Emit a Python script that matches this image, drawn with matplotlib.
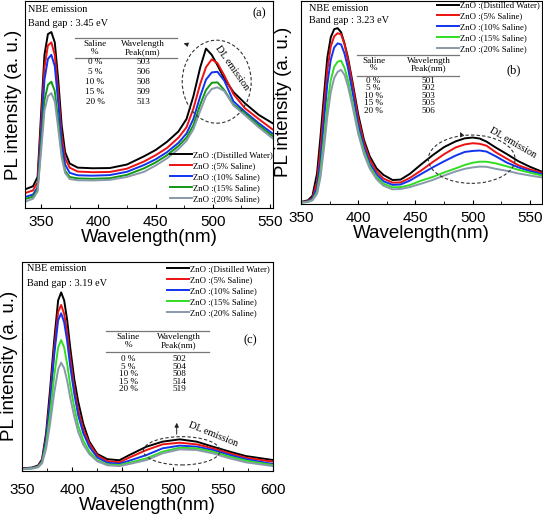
import matplotlib
matplotlib.use("Agg")
import matplotlib.pyplot as plt
from matplotlib.lines import Line2D
from matplotlib.patches import Ellipse
from matplotlib.ticker import MultipleLocator

W, H = 543, 519
SERIF = "Liberation Serif"
SANS = "Liberation Sans"

LABELS = ["ZnO :(Distilled Water)", "ZnO :(5% Saline)", "ZnO :(10% Saline)",
          "ZnO :(15% Saline)", "ZnO :(20% Saline)"]
SALINE = ["0 %", "5 %", "10 %", "15 %", "20 %"]
PEAK_A = [503, 506, 508, 509, 513]
PEAK_B = [501, 502, 503, 505, 506]
PEAK_C = [502, 504, 508, 514, 519]

# panel (a): 3.45 eV
WL_A = [336, 343, 347, 350, 353, 356, 359, 362, 365, 368, 371, 375, 382, 395, 410, 425,
        440, 450, 460, 470, 477, 483, 489, 494, 499, 504, 510, 518, 528, 540, 552]
A_0 = [9.0, 10.5, 15, 45, 74, 84, 85, 80, 62, 40, 27, 21.5, 19.5, 19.2, 19.3, 21,
       25, 28, 32, 37, 43, 54, 68, 77, 74, 69, 62.5, 56, 50.6, 45, 41]
A_5 = [7.2, 8.5, 12.5, 40, 68, 78.5, 80, 74, 56, 35, 24, 19.5, 17.6, 17.3, 17.4, 19,
       22.5, 25.5, 29, 34, 39, 48, 60, 68, 71.8, 70, 64, 55, 48.2, 43, 38]
A_10 = [5.3, 6.5, 10, 35, 62, 72, 74, 68.5, 51, 31, 21, 17, 15.8, 15.6, 15.9, 17.5,
        20.8, 23.5, 27, 31.5, 36, 43, 54, 62, 65.5, 65.8, 61.5, 51.5, 46.5, 41, 36]
A_15 = [4.3, 5.5, 9, 30, 52, 59.5, 61, 56.5, 42, 26, 18, 15, 14.3, 14.1, 14.4, 16,
        19.2, 22, 25.5, 30, 34, 40, 50, 57, 60.5, 60.7, 57, 50, 45.7, 40, 34.8]
A_20 = [3, 4.5, 8, 27, 47, 54, 55.5, 51.5, 38.5, 24.5, 17, 14, 13.4, 13.3, 13.6, 15,
        17.5, 20.5, 24, 28.5, 32.5, 38, 47, 54, 57.5, 58.3, 56.5, 49.5, 44.9, 39, 33.7]

# panel (b): 3.23 eV
WL_B = [350, 356, 360, 364, 367, 370, 373, 376, 379, 382, 385, 388, 391, 395, 400, 405,
        410, 416, 422, 430, 437, 445, 455, 465, 475, 485, 493, 500, 506, 512, 520, 530,
        540, 550, 560]
B_0 = [1, 1.8, 4, 15, 33, 53, 72, 82, 86, 86.5, 84.5, 79, 72, 60, 44, 31.5,
       23.5, 17.5, 14.3, 11.8, 12, 14.8, 19.5, 24, 28, 30.8, 32.3, 32.7, 32.2, 30.7, 27.8, 24.5,
       21, 18.3, 16]
B_5 = [0.9, 1.5, 3, 11, 27, 47, 66, 77.5, 82.5, 84, 83.5, 78.5, 71, 58.5, 42, 30,
       22, 16, 12.5, 10.5, 10.6, 12.8, 16.5, 20.6, 24.5, 27.8, 29.3, 29.9, 29.6, 28.7, 25.5, 22.2,
       19, 17, 15.4]
B_10 = [0.8, 1.3, 2.5, 8, 21, 40, 59, 71, 77, 79, 78.5, 74, 67, 55, 39, 28,
        20, 14.5, 11.2, 9.4, 9.6, 11.5, 14.8, 18, 21, 23.8, 25.6, 26.1, 26.3, 25.8, 23.5, 20.3,
        18, 16.2, 14.8]
B_15 = [0.7, 1.1, 2, 6, 16, 32, 49, 61, 67.5, 70, 70.5, 67, 61, 50, 36, 26,
        18.5, 13.2, 10, 8.2, 8.3, 9.3, 11.5, 13.3, 15.5, 17.5, 19.2, 20.3, 20.8, 20.8, 20, 18.5,
        16.8, 15.4, 14.1]
B_20 = [0.6, 1, 1.8, 5, 13, 27, 43, 55, 62, 65, 66, 63.5, 58, 48, 34.5, 24.5,
        17.5, 12.2, 9, 7.2, 7.4, 8.3, 10, 11.8, 14, 16, 17.3, 18, 18.4, 18.3, 17.3, 16.3,
        15, 14, 13.1]

# panel (c): 3.19 eV
WL_C = [350, 360, 366, 370, 374, 378, 382, 386, 389, 392, 395, 398, 402, 406, 411, 417,
        425, 435, 447, 457, 474, 490, 507, 524, 540, 557, 573, 600]
C_0 = [1.1, 1.5, 2.5, 5.5, 18, 39, 62, 81.5, 85.3, 81.5, 72, 59, 44, 33, 22.5, 14,
       8, 5.5, 5, 7.5, 11.5, 13.9, 15, 13.9, 11.5, 9.1, 7, 5.1]
C_5 = [1, 1.3, 2.2, 5, 16, 35, 58, 76, 79.3, 75, 66, 54, 40, 29, 20, 13,
       7.3, 4.6, 4, 6.3, 9.9, 12.6, 13.4, 12.6, 10.7, 8.3, 6.2, 4.3]
C_10 = [0.9, 1.2, 2, 4.5, 15, 33, 55, 72, 75.3, 71, 62, 50, 37, 26.5, 18, 11.5,
        6.3, 3.8, 3.3, 4.8, 7.5, 10.7, 12, 11.5, 9.9, 7.5, 5.5, 3.2]
C_15 = [0.8, 1.1, 1.8, 4, 12.5, 27, 45, 59, 62.5, 59, 51, 41, 30.5, 21.5, 14.5, 9.2,
        5, 3, 2.7, 3.8, 5.9, 9.1, 11, 10.7, 9.1, 6.7, 4.8, 2.7]
C_20 = [0.7, 1, 1.6, 3.5, 10.5, 22.5, 37, 48.5, 51.7, 49, 43, 35, 26, 18.5, 12.5, 8,
        4.5, 2.6, 2.2, 3.2, 5.1, 8.3, 10.2, 9.9, 8.3, 5.9, 4, 2.2]

COLORS_A = ["#000000", "#ee1111", "#1133ee", "#119911", "#8899aa"]
COLORS_BC = ["#000000", "#ee1111", "#1133ee", "#33dd22", "#8899aa"]


def fp(x, y):
    # figure pixel (from top-left) -> figure fraction
    return (x / W, 1 - y / H)


def ftext(fig, x, y, s, size=6.6, ha="center", **kw):
    fig.text(x / W, 1 - y / H, s, ha=ha, va="center", family=SERIF, fontsize=size, **kw)


def hline(fig, x0, x1, y):
    fig.add_artist(Line2D([x0 / W, x1 / W], [1 - y / H, 1 - y / H], transform=fig.transFigure,
                          color="#777777", lw=0.9))


def make_axes(fig, l, t, r, b, wl, series, colors, xlim, xticks, ypad, tpad):
    ax = fig.add_axes([l / W, 1 - b / H, (r - l) / W, (b - t) / H])
    for ys, c, lab in zip(series, colors, LABELS):
        ax.plot(wl, ys, color=c, lw=1.4, label=lab)
    ax.set_xlim(*xlim)
    ax.set_ylim(0, 100)
    ax.set_xticks(xticks)
    ax.xaxis.set_minor_locator(MultipleLocator(25))
    ax.set_yticks([])
    ax.tick_params(axis="x", which="major", direction="in", length=3, labelsize=11, pad=tpad)
    ax.tick_params(axis="x", which="minor", direction="in", length=2)
    for t_ in ax.get_xticklabels():
        t_.set_family(SANS)
    for sp in ax.spines.values():
        sp.set_linewidth(0.8)
    ax.set_xlabel("Wavelength(nm)", family=SANS, fontsize=13.5, labelpad=0)
    ax.set_ylabel("PL intensity (a. u.)", family=SANS, fontsize=13.5, labelpad=ypad)
    return ax


def legend(fig, ax, x, y):
    ax.legend(loc="upper left", bbox_to_anchor=fp(x, y), bbox_transform=fig.transFigure,
              borderaxespad=0, borderpad=0, handlelength=2.5, handletextpad=0.15,
              labelspacing=0.32, frameon=False, prop={"family": SERIF, "size": 6.3})


def table(fig, x0, x1, c1, c2, ytop, yh1, yh2, yline, rows, peaks):
    hline(fig, x0, x1, ytop)
    hline(fig, x0, x1, yline)
    ftext(fig, c1, yh1, "Saline")
    ftext(fig, c1, yh2, "%")
    ftext(fig, c2, yh1, "Wavelength")
    ftext(fig, c2, yh2, "Peak(nm)")
    for s, p, y in zip(SALINE, peaks, rows):
        ftext(fig, c1, y, s)
        ftext(fig, c2, y, str(p))


def ellipse(fig, cx, cy, w, h):
    fig.add_artist(Ellipse(fp(cx, cy), w / W, h / H, transform=fig.transFigure, fill=False,
                           ec="#333333", lw=0.8, ls=(0, (3, 2))))


def arrow(ax, x0, y0, x1, y1):
    ax.annotate("", xy=fp(x1, y1), xytext=fp(x0, y0), xycoords="figure fraction",
                textcoords="figure fraction",
                arrowprops=dict(arrowstyle="-|>", lw=0.7, color="#222222", mutation_scale=6))


def main():
    fig = plt.figure(figsize=(W / 100, H / 100), dpi=100)

    # (a)
    ax = make_axes(fig, 25, 1, 273, 208, WL_A, [A_0, A_5, A_10, A_15, A_20], COLORS_A,
                   (336, 552.5), range(350, 551, 50), 2, 5)
    legend(fig, ax, 170, 151)
    ftext(fig, 28, 10, "NBE emission", size=7.4, ha="left")
    ftext(fig, 28, 24, "Band gap : 3.45 eV", size=7.4, ha="left")
    ftext(fig, 259, 13, "(a)", size=9)
    table(fig, 75, 177, 95, 143, 37.5, 43.5, 52.5, 58, [62.5, 72.4, 82.3, 92.2, 102.1], PEAK_A)
    ellipse(fig, 216.7, 81.7, 69, 83)
    ftext(fig, 232, 68, "DL emission", size=7.4, rotation=-55)
    arrow(ax, 189, 45, 181, 42.5)

    # (b)
    ax = make_axes(fig, 301, 0.7, 542, 204, WL_B, [B_0, B_5, B_10, B_15, B_20], COLORS_BC,
                   (350, 560.5), range(350, 551, 50), 6.5, 5)
    legend(fig, ax, 437, 1.5)
    ftext(fig, 308.7, 8.3, "NBE emission", size=7.4, ha="left")
    ftext(fig, 308.7, 20.7, "Band gap : 3.23 eV", size=7.4, ha="left")
    ftext(fig, 513.7, 70, "(b)", size=9)
    table(fig, 357, 459, 373.7, 428.7, 55, 61, 68.3, 75.7,
          [80.7, 88, 95.7, 103.3, 111.2], PEAK_B)
    ellipse(fig, 471.7, 159.2, 86.7, 48.3)
    ftext(fig, 513, 143, "DL emission", size=7.4, rotation=-30)
    arrow(ax, 462, 136, 459, 129.5)

    # (c)
    ax = make_axes(fig, 22, 261.7, 273, 470.7, WL_C, [C_0, C_5, C_10, C_15, C_20], COLORS_BC,
                   (350, 600), range(350, 601, 50), 3, 9)
    legend(fig, ax, 166.7, 265)
    ftext(fig, 26.7, 268.3, "NBE emission", size=7.4, ha="left")
    ftext(fig, 26.7, 283.3, "Band gap : 3.19 eV", size=7.4, ha="left")
    ftext(fig, 250, 340, "(c)", size=9)
    table(fig, 106, 209.3, 128.3, 179, 331, 337.3, 345, 351.7,
          [359, 366.7, 374.3, 381.7, 389.3], PEAK_C)
    ellipse(fig, 181.7, 450.8, 76.7, 28.3)
    ftext(fig, 213, 434, "DL emission", size=7.4, rotation=-22)
    arrow(ax, 176.7, 437, 176.7, 420)

    fig.savefig("out.png", dpi=100)


if __name__ == "__main__":
    main()
